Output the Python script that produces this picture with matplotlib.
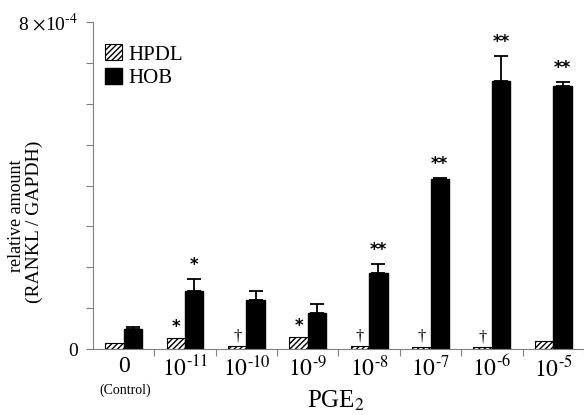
import matplotlib
matplotlib.use("Agg")
import matplotlib.pyplot as plt
import numpy as np

plt.rcParams['font.family'] = ['Liberation Serif', 'DejaVu Serif']
plt.rcParams['mathtext.fontset'] = 'stix'
plt.rcParams['hatch.linewidth'] = 1.0

# data (units of 1e-4, relative amount RANKL / GAPDH)
doses = ['0', r'$10^{\text{-11}}$', r'$10^{\text{-10}}$', r'$10^{\text{-9}}$',
         r'$10^{\text{-8}}$', r'$10^{\text{-7}}$', r'$10^{\text{-6}}$',
         r'$10^{\text{-5}}$']
hpdl = [0.15, 0.27, 0.07, 0.29, 0.07, 0.05, 0.04, 0.20]
hob = [0.49, 1.42, 1.20, 0.88, 1.86, 4.16, 6.55, 6.43]
hob_err = [0.06, 0.29, 0.22, 0.22, 0.22, 0.03, 0.61, 0.10]
hpdl_marks = ['', '*', '\u2020', '*', '\u2020', '\u2020', '\u2020', '']
hob_marks = ['', '*', '', '', '**', '**', '**', '**']

fig = plt.figure(figsize=(5.84, 4.15), dpi=100)
ax = fig.add_axes([0.159, 0.159, 0.841, 0.788])

x = np.arange(len(doses))
w = 0.3
ax.bar(x - w / 2, hpdl, w, color='white', edgecolor='black', hatch='//////',
       linewidth=0.8, label='HPDL')
ax.bar(x + w / 2, hob, w, color='black', edgecolor='black', label='HOB')
ax.errorbar(x + w / 2, hob, yerr=[np.zeros(len(hob)), hob_err], fmt='none',
            ecolor='black', elinewidth=1.3, capsize=5, capthick=1.3)

for i in range(len(doses)):
    if hpdl_marks[i] == '*':
        ax.text(x[i] - w / 2, hpdl[i] + 0.06, '*', ha='center', va='bottom',
                fontsize=12, fontweight='bold', family='DejaVu Sans')
    elif hpdl_marks[i]:
        ax.text(x[i] - w / 2, hpdl[i] + 0.05, hpdl_marks[i], ha='center',
                va='bottom', fontsize=12)
    if hob_marks[i]:
        ax.text(x[i] + w / 2, hob[i] + hob_err[i] + 0.12, hob_marks[i],
                ha='center', va='bottom', fontsize=12, fontweight='bold',
                family='DejaVu Sans')

ax.set_xlim(-0.5, 7.5)
ax.set_ylim(0, 8)

# separators between groups on x, labels at the centres
ax.set_xticks(x + 0.5)
ax.set_xticklabels([])
ax.set_xticks(x, minor=True)
ax.set_xticklabels(doses, minor=True, fontsize=17)
ax.tick_params(axis='x', which='major', direction='out', length=5,
               color='#808080')
ax.tick_params(axis='x', which='minor', length=0, pad=5)

yt = np.arange(0, 9)
ax.set_yticks(yt)
ax.set_yticklabels(['0'] + [''] * 7 + [r'8 $\times$10$^{\text{-4}}$'],
                   fontsize=14)
ax.tick_params(axis='y', direction='out', length=5, color='#808080', pad=6)

for s in ['top', 'right']:
    ax.spines[s].set_visible(False)
for s in ['left', 'bottom']:
    ax.spines[s].set_color('#808080')

fig.text(0.214, 0.06, '(Control)', ha='center', va='center', fontsize=10)
fig.text(0.575, 0.035, 'PGE$_2$', ha='center', va='center', fontsize=18)
fig.text(0.028, 0.48, 'relative amount', rotation=90, ha='center',
         va='center', fontsize=13)
fig.text(0.058, 0.465, '(RANKL / GAPDH)', rotation=90, ha='center',
         va='center', fontsize=14)

ax.legend(loc='upper left', bbox_to_anchor=(0.0, 0.97), frameon=False,
          fontsize=15, handlelength=0.8, handleheight=0.8, handletextpad=0.3,
          labelspacing=0.15, borderaxespad=0.2)

fig.savefig('out.png', dpi=100)
